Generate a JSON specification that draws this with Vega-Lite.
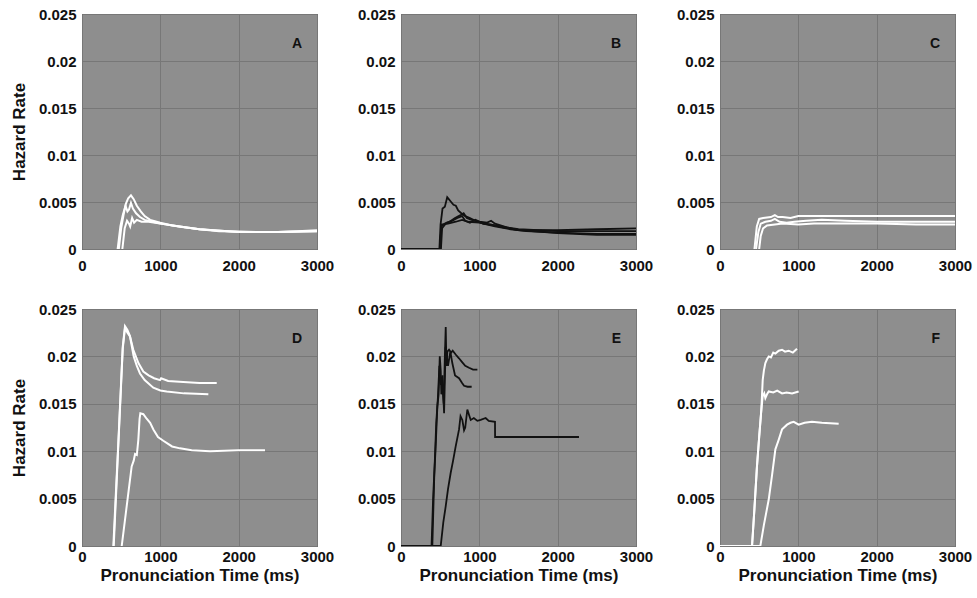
{
  "$schema": "https://vega.github.io/schema/vega-lite/v6.json",
  "background": "#ffffff",
  "padding": {"left": 9, "top": 6, "right": 5, "bottom": 5},
  "datasets": {
    "curves": [
      {"p":"A","s":1,"t":470,"h":0},{"p":"A","s":1,"t":500,"h":0.0022},{"p":"A","s":1,"t":530,"h":0.0036},{"p":"A","s":1,"t":560,"h":0.0048},{"p":"A","s":1,"t":590,"h":0.0054},{"p":"A","s":1,"t":625,"h":0.0057},{"p":"A","s":1,"t":660,"h":0.0053},{"p":"A","s":1,"t":700,"h":0.0046},{"p":"A","s":1,"t":750,"h":0.004},{"p":"A","s":1,"t":800,"h":0.0035},{"p":"A","s":1,"t":870,"h":0.0031},{"p":"A","s":1,"t":1000,"h":0.0028},{"p":"A","s":1,"t":1150,"h":0.0025},{"p":"A","s":1,"t":1300,"h":0.0023},{"p":"A","s":1,"t":1500,"h":0.0021},{"p":"A","s":1,"t":1750,"h":0.0019},{"p":"A","s":1,"t":2000,"h":0.00185},{"p":"A","s":1,"t":2250,"h":0.0018},{"p":"A","s":1,"t":2500,"h":0.0018},{"p":"A","s":1,"t":2750,"h":0.0019},{"p":"A","s":1,"t":3000,"h":0.002},
      {"p":"A","s":2,"t":455,"h":0},{"p":"A","s":2,"t":490,"h":0.0024},{"p":"A","s":2,"t":520,"h":0.0036},{"p":"A","s":2,"t":555,"h":0.0046},{"p":"A","s":2,"t":580,"h":0.004},{"p":"A","s":2,"t":600,"h":0.0042},{"p":"A","s":2,"t":625,"h":0.0049},{"p":"A","s":2,"t":650,"h":0.0043},{"p":"A","s":2,"t":690,"h":0.0038},{"p":"A","s":2,"t":740,"h":0.0034},{"p":"A","s":2,"t":800,"h":0.0031},{"p":"A","s":2,"t":900,"h":0.0029},{"p":"A","s":2,"t":1000,"h":0.0027},{"p":"A","s":2,"t":1250,"h":0.0024},{"p":"A","s":2,"t":1500,"h":0.0021},{"p":"A","s":2,"t":2000,"h":0.0018},{"p":"A","s":2,"t":2500,"h":0.0018},{"p":"A","s":2,"t":3000,"h":0.0019},
      {"p":"A","s":3,"t":515,"h":0},{"p":"A","s":3,"t":545,"h":0.0022},{"p":"A","s":3,"t":575,"h":0.003},{"p":"A","s":3,"t":600,"h":0.0027},{"p":"A","s":3,"t":615,"h":0.0024},{"p":"A","s":3,"t":640,"h":0.0033},{"p":"A","s":3,"t":665,"h":0.0028},{"p":"A","s":3,"t":700,"h":0.0031},{"p":"A","s":3,"t":760,"h":0.0029},{"p":"A","s":3,"t":850,"h":0.0029},{"p":"A","s":3,"t":1000,"h":0.0027},{"p":"A","s":3,"t":1250,"h":0.0024},{"p":"A","s":3,"t":1500,"h":0.0021},{"p":"A","s":3,"t":2000,"h":0.0018},{"p":"A","s":3,"t":2500,"h":0.0018},{"p":"A","s":3,"t":3000,"h":0.0019},

      {"p":"B","s":1,"t":0,"h":0},{"p":"B","s":1,"t":490,"h":0},{"p":"B","s":1,"t":505,"h":0.0026},{"p":"B","s":1,"t":530,"h":0.0043},{"p":"B","s":1,"t":560,"h":0.0045},{"p":"B","s":1,"t":590,"h":0.0055},{"p":"B","s":1,"t":610,"h":0.0053},{"p":"B","s":1,"t":640,"h":0.005},{"p":"B","s":1,"t":670,"h":0.0047},{"p":"B","s":1,"t":700,"h":0.0046},{"p":"B","s":1,"t":730,"h":0.0041},{"p":"B","s":1,"t":770,"h":0.0038},{"p":"B","s":1,"t":820,"h":0.0035},{"p":"B","s":1,"t":880,"h":0.0033},{"p":"B","s":1,"t":950,"h":0.003},{"p":"B","s":1,"t":1050,"h":0.0027},{"p":"B","s":1,"t":1200,"h":0.0024},{"p":"B","s":1,"t":1400,"h":0.0021},{"p":"B","s":1,"t":1600,"h":0.0019},{"p":"B","s":1,"t":2000,"h":0.00175},{"p":"B","s":1,"t":2500,"h":0.0016},{"p":"B","s":1,"t":3000,"h":0.0016},
      {"p":"B","s":2,"t":0,"h":0},{"p":"B","s":2,"t":500,"h":0},{"p":"B","s":2,"t":515,"h":0.0024},{"p":"B","s":2,"t":560,"h":0.0027},{"p":"B","s":2,"t":620,"h":0.0029},{"p":"B","s":2,"t":690,"h":0.0033},{"p":"B","s":2,"t":760,"h":0.0036},{"p":"B","s":2,"t":800,"h":0.0038},{"p":"B","s":2,"t":840,"h":0.0033},{"p":"B","s":2,"t":900,"h":0.0031},{"p":"B","s":2,"t":1000,"h":0.0029},{"p":"B","s":2,"t":1100,"h":0.0028},{"p":"B","s":2,"t":1150,"h":0.003},{"p":"B","s":2,"t":1200,"h":0.0027},{"p":"B","s":2,"t":1350,"h":0.0023},{"p":"B","s":2,"t":1500,"h":0.002},{"p":"B","s":2,"t":2000,"h":0.002},{"p":"B","s":2,"t":2500,"h":0.0021},{"p":"B","s":2,"t":3000,"h":0.0022},
      {"p":"B","s":3,"t":0,"h":0},{"p":"B","s":3,"t":510,"h":0},{"p":"B","s":3,"t":525,"h":0.0022},{"p":"B","s":3,"t":580,"h":0.0028},{"p":"B","s":3,"t":650,"h":0.003},{"p":"B","s":3,"t":720,"h":0.0033},{"p":"B","s":3,"t":780,"h":0.0035},{"p":"B","s":3,"t":820,"h":0.003},{"p":"B","s":3,"t":880,"h":0.0028},{"p":"B","s":3,"t":950,"h":0.0031},{"p":"B","s":3,"t":1050,"h":0.0027},{"p":"B","s":3,"t":1150,"h":0.0026},{"p":"B","s":3,"t":1300,"h":0.0023},{"p":"B","s":3,"t":1500,"h":0.002},{"p":"B","s":3,"t":2000,"h":0.0017},{"p":"B","s":3,"t":2500,"h":0.0015},{"p":"B","s":3,"t":3000,"h":0.0015},
      {"p":"B","s":4,"t":500,"h":0},{"p":"B","s":4,"t":515,"h":0.0026},{"p":"B","s":4,"t":600,"h":0.0027},{"p":"B","s":4,"t":700,"h":0.0029},{"p":"B","s":4,"t":780,"h":0.0031},{"p":"B","s":4,"t":860,"h":0.0029},{"p":"B","s":4,"t":1000,"h":0.0028},{"p":"B","s":4,"t":1200,"h":0.0025},{"p":"B","s":4,"t":1500,"h":0.0021},{"p":"B","s":4,"t":2000,"h":0.0019},{"p":"B","s":4,"t":2500,"h":0.0019},{"p":"B","s":4,"t":3000,"h":0.0019},

      {"p":"C","s":1,"t":440,"h":0},{"p":"C","s":1,"t":470,"h":0.0024},{"p":"C","s":1,"t":500,"h":0.0032},{"p":"C","s":1,"t":550,"h":0.0033},{"p":"C","s":1,"t":650,"h":0.0034},{"p":"C","s":1,"t":700,"h":0.0036},{"p":"C","s":1,"t":740,"h":0.0034},{"p":"C","s":1,"t":800,"h":0.0034},{"p":"C","s":1,"t":900,"h":0.0033},{"p":"C","s":1,"t":1000,"h":0.0035},{"p":"C","s":1,"t":1200,"h":0.0035},{"p":"C","s":1,"t":1500,"h":0.0035},{"p":"C","s":1,"t":2000,"h":0.0035},{"p":"C","s":1,"t":2500,"h":0.0035},{"p":"C","s":1,"t":3000,"h":0.0035},
      {"p":"C","s":2,"t":460,"h":0},{"p":"C","s":2,"t":490,"h":0.0018},{"p":"C","s":2,"t":520,"h":0.0027},{"p":"C","s":2,"t":580,"h":0.0029},{"p":"C","s":2,"t":650,"h":0.003},{"p":"C","s":2,"t":700,"h":0.0032},{"p":"C","s":2,"t":760,"h":0.0029},{"p":"C","s":2,"t":850,"h":0.0028},{"p":"C","s":2,"t":950,"h":0.0029},{"p":"C","s":2,"t":1100,"h":0.003},{"p":"C","s":2,"t":1300,"h":0.0031},{"p":"C","s":2,"t":1600,"h":0.003},{"p":"C","s":2,"t":2000,"h":0.0029},{"p":"C","s":2,"t":2500,"h":0.0029},{"p":"C","s":2,"t":3000,"h":0.0029},
      {"p":"C","s":3,"t":500,"h":0},{"p":"C","s":3,"t":520,"h":0.0014},{"p":"C","s":3,"t":550,"h":0.0022},{"p":"C","s":3,"t":600,"h":0.0025},{"p":"C","s":3,"t":700,"h":0.0026},{"p":"C","s":3,"t":800,"h":0.0027},{"p":"C","s":3,"t":1000,"h":0.0026},{"p":"C","s":3,"t":1200,"h":0.0027},{"p":"C","s":3,"t":1500,"h":0.0027},{"p":"C","s":3,"t":2000,"h":0.0027},{"p":"C","s":3,"t":2500,"h":0.0026},{"p":"C","s":3,"t":3000,"h":0.0026},

      {"p":"D","s":1,"t":400,"h":0},{"p":"D","s":1,"t":470,"h":0.012},{"p":"D","s":1,"t":520,"h":0.021},{"p":"D","s":1,"t":549,"h":0.0232},{"p":"D","s":1,"t":580,"h":0.0228},{"p":"D","s":1,"t":610,"h":0.0222},{"p":"D","s":1,"t":655,"h":0.0207},{"p":"D","s":1,"t":720,"h":0.0193},{"p":"D","s":1,"t":783,"h":0.0184},{"p":"D","s":1,"t":850,"h":0.018},{"p":"D","s":1,"t":920,"h":0.0177},{"p":"D","s":1,"t":996,"h":0.0175},{"p":"D","s":1,"t":1010,"h":0.0177},{"p":"D","s":1,"t":1100,"h":0.0174},{"p":"D","s":1,"t":1293,"h":0.0173},{"p":"D","s":1,"t":1500,"h":0.0172},{"p":"D","s":1,"t":1720,"h":0.0172},
      {"p":"D","s":2,"t":405,"h":0},{"p":"D","s":2,"t":470,"h":0.0118},{"p":"D","s":2,"t":520,"h":0.0208},{"p":"D","s":2,"t":549,"h":0.023},{"p":"D","s":2,"t":580,"h":0.0225},{"p":"D","s":2,"t":613,"h":0.0221},{"p":"D","s":2,"t":660,"h":0.02},{"p":"D","s":2,"t":700,"h":0.019},{"p":"D","s":2,"t":740,"h":0.0182},{"p":"D","s":2,"t":800,"h":0.0175},{"p":"D","s":2,"t":910,"h":0.0167},{"p":"D","s":2,"t":1000,"h":0.0164},{"p":"D","s":2,"t":1081,"h":0.0163},{"p":"D","s":2,"t":1300,"h":0.0161},{"p":"D","s":2,"t":1613,"h":0.016},
      {"p":"D","s":3,"t":507,"h":0},{"p":"D","s":3,"t":560,"h":0.0035},{"p":"D","s":3,"t":634,"h":0.0084},{"p":"D","s":3,"t":660,"h":0.009},{"p":"D","s":3,"t":677,"h":0.0097},{"p":"D","s":3,"t":700,"h":0.0096},{"p":"D","s":3,"t":719,"h":0.0112},{"p":"D","s":3,"t":735,"h":0.0134},{"p":"D","s":3,"t":745,"h":0.014},{"p":"D","s":3,"t":783,"h":0.0139},{"p":"D","s":3,"t":820,"h":0.0135},{"p":"D","s":3,"t":870,"h":0.013},{"p":"D","s":3,"t":911,"h":0.0123},{"p":"D","s":3,"t":970,"h":0.0115},{"p":"D","s":3,"t":1038,"h":0.0111},{"p":"D","s":3,"t":1150,"h":0.0105},{"p":"D","s":3,"t":1251,"h":0.0103},{"p":"D","s":3,"t":1400,"h":0.0101},{"p":"D","s":3,"t":1634,"h":0.01},{"p":"D","s":3,"t":2000,"h":0.0101},{"p":"D","s":3,"t":2336,"h":0.0101},

      {"p":"E","s":1,"t":0,"h":0},{"p":"E","s":1,"t":390,"h":0},{"p":"E","s":1,"t":410,"h":0.005},{"p":"E","s":1,"t":421,"h":0.007},{"p":"E","s":1,"t":440,"h":0.01},{"p":"E","s":1,"t":464,"h":0.0147},{"p":"E","s":1,"t":480,"h":0.016},{"p":"E","s":1,"t":495,"h":0.02},{"p":"E","s":1,"t":507,"h":0.0185},{"p":"E","s":1,"t":515,"h":0.016},{"p":"E","s":1,"t":528,"h":0.017},{"p":"E","s":1,"t":545,"h":0.015},{"p":"E","s":1,"t":560,"h":0.02},{"p":"E","s":1,"t":571,"h":0.0231},{"p":"E","s":1,"t":580,"h":0.019},{"p":"E","s":1,"t":592,"h":0.0205},{"p":"E","s":1,"t":613,"h":0.0207},{"p":"E","s":1,"t":640,"h":0.0204},{"p":"E","s":1,"t":660,"h":0.0206},{"p":"E","s":1,"t":698,"h":0.0202},{"p":"E","s":1,"t":740,"h":0.0198},{"p":"E","s":1,"t":780,"h":0.0194},{"p":"E","s":1,"t":820,"h":0.019},{"p":"E","s":1,"t":868,"h":0.0188},{"p":"E","s":1,"t":920,"h":0.0186},{"p":"E","s":1,"t":975,"h":0.0186},
      {"p":"E","s":2,"t":0,"h":0},{"p":"E","s":2,"t":400,"h":0},{"p":"E","s":2,"t":425,"h":0.0075},{"p":"E","s":2,"t":450,"h":0.013},{"p":"E","s":2,"t":470,"h":0.0155},{"p":"E","s":2,"t":490,"h":0.019},{"p":"E","s":2,"t":510,"h":0.017},{"p":"E","s":2,"t":530,"h":0.018},{"p":"E","s":2,"t":550,"h":0.014},{"p":"E","s":2,"t":570,"h":0.021},{"p":"E","s":2,"t":600,"h":0.019},{"p":"E","s":2,"t":630,"h":0.0205},{"p":"E","s":2,"t":655,"h":0.0193},{"p":"E","s":2,"t":690,"h":0.018},{"p":"E","s":2,"t":741,"h":0.0177},{"p":"E","s":2,"t":780,"h":0.0172},{"p":"E","s":2,"t":805,"h":0.0169},{"p":"E","s":2,"t":850,"h":0.0168},{"p":"E","s":2,"t":902,"h":0.0168},
      {"p":"E","s":3,"t":0,"h":0},{"p":"E","s":3,"t":507,"h":0},{"p":"E","s":3,"t":540,"h":0.0025},{"p":"E","s":3,"t":571,"h":0.0042},{"p":"E","s":3,"t":600,"h":0.006},{"p":"E","s":3,"t":634,"h":0.0077},{"p":"E","s":3,"t":665,"h":0.009},{"p":"E","s":3,"t":698,"h":0.0105},{"p":"E","s":3,"t":741,"h":0.0123},{"p":"E","s":3,"t":760,"h":0.0137},{"p":"E","s":3,"t":783,"h":0.0133},{"p":"E","s":3,"t":805,"h":0.0122},{"p":"E","s":3,"t":820,"h":0.0125},{"p":"E","s":3,"t":847,"h":0.0144},{"p":"E","s":3,"t":870,"h":0.0138},{"p":"E","s":3,"t":890,"h":0.0133},{"p":"E","s":3,"t":930,"h":0.0135},{"p":"E","s":3,"t":975,"h":0.0132},{"p":"E","s":3,"t":1017,"h":0.0133},{"p":"E","s":3,"t":1081,"h":0.0135},{"p":"E","s":3,"t":1120,"h":0.0132},{"p":"E","s":3,"t":1200,"h":0.0131},{"p":"E","s":3,"t":1201,"h":0.0115},{"p":"E","s":3,"t":1600,"h":0.0115},{"p":"E","s":3,"t":2000,"h":0.0115},{"p":"E","s":3,"t":2272,"h":0.0115},

      {"p":"F","s":1,"t":0,"h":0},{"p":"F","s":1,"t":409,"h":0},{"p":"F","s":1,"t":440,"h":0.004},{"p":"F","s":1,"t":472,"h":0.0084},{"p":"F","s":1,"t":500,"h":0.0115},{"p":"F","s":1,"t":528,"h":0.0144},{"p":"F","s":1,"t":545,"h":0.0175},{"p":"F","s":1,"t":560,"h":0.0185},{"p":"F","s":1,"t":579,"h":0.0193},{"p":"F","s":1,"t":600,"h":0.0197},{"p":"F","s":1,"t":622,"h":0.02},{"p":"F","s":1,"t":650,"h":0.0199},{"p":"F","s":1,"t":680,"h":0.0204},{"p":"F","s":1,"t":707,"h":0.0203},{"p":"F","s":1,"t":750,"h":0.0206},{"p":"F","s":1,"t":792,"h":0.0207},{"p":"F","s":1,"t":830,"h":0.0205},{"p":"F","s":1,"t":877,"h":0.0206},{"p":"F","s":1,"t":930,"h":0.0204},{"p":"F","s":1,"t":983,"h":0.0208},
      {"p":"F","s":2,"t":0,"h":0},{"p":"F","s":2,"t":409,"h":0},{"p":"F","s":2,"t":440,"h":0.004},{"p":"F","s":2,"t":472,"h":0.0084},{"p":"F","s":2,"t":500,"h":0.0115},{"p":"F","s":2,"t":528,"h":0.0144},{"p":"F","s":2,"t":545,"h":0.0158},{"p":"F","s":2,"t":565,"h":0.0161},{"p":"F","s":2,"t":579,"h":0.0156},{"p":"F","s":2,"t":600,"h":0.016},{"p":"F","s":2,"t":622,"h":0.0163},{"p":"F","s":2,"t":680,"h":0.0162},{"p":"F","s":2,"t":730,"h":0.0164},{"p":"F","s":2,"t":792,"h":0.0161},{"p":"F","s":2,"t":850,"h":0.0162},{"p":"F","s":2,"t":920,"h":0.0161},{"p":"F","s":2,"t":1004,"h":0.0163},
      {"p":"F","s":3,"t":0,"h":0},{"p":"F","s":3,"t":515,"h":0},{"p":"F","s":3,"t":560,"h":0.0022},{"p":"F","s":3,"t":622,"h":0.0049},{"p":"F","s":3,"t":665,"h":0.0075},{"p":"F","s":3,"t":707,"h":0.0102},{"p":"F","s":3,"t":749,"h":0.0112},{"p":"F","s":3,"t":792,"h":0.0123},{"p":"F","s":3,"t":856,"h":0.0128},{"p":"F","s":3,"t":900,"h":0.013},{"p":"F","s":3,"t":941,"h":0.0131},{"p":"F","s":3,"t":1004,"h":0.0128},{"p":"F","s":3,"t":1080,"h":0.013},{"p":"F","s":3,"t":1174,"h":0.0131},{"p":"F","s":3,"t":1300,"h":0.013},{"p":"F","s":3,"t":1515,"h":0.0129}
    ]
  },
  "columns": 3,
  "spacing": {"row": 60, "column": 84},
  "bounds": "flush",
  "concat": [
    {
      "width": 235, "height": 235,
      "title": {"text": "A"},
      "data": {"name": "curves"},
      "transform": [{"filter": "datum.p === 'A'"}],
      "mark": {"type": "line", "color": "#ffffff", "strokeWidth": 2, "clip": true},
      "encoding": {
        "x": {"field": "t", "type": "quantitative", "scale": {"domain": [0, 3000], "nice": false}, "axis": {"values": [0, 1000, 2000, 3000], "format": "d", "title": null, "labelPadding": 9}},
        "y": {"field": "h", "type": "quantitative", "scale": {"domain": [0, 0.025], "nice": false, "zero": false}, "axis": {"values": [0, 0.005, 0.01, 0.015, 0.02, 0.025], "format": ".3~f", "title": "Hazard Rate"}},
        "detail": {"field": "s"}
      }
    },
    {
      "width": 235, "height": 235,
      "title": {"text": "B"},
      "data": {"name": "curves"},
      "transform": [{"filter": "datum.p === 'B'"}],
      "mark": {"type": "line", "color": "#111111", "strokeWidth": 1.8, "clip": true},
      "encoding": {
        "x": {"field": "t", "type": "quantitative", "scale": {"domain": [0, 3000], "nice": false}, "axis": {"values": [0, 1000, 2000, 3000], "format": "d", "title": null, "labelPadding": 9}},
        "y": {"field": "h", "type": "quantitative", "scale": {"domain": [0, 0.025], "nice": false, "zero": false}, "axis": {"values": [0, 0.005, 0.01, 0.015, 0.02, 0.025], "format": ".3~f", "title": null}},
        "detail": {"field": "s"}
      }
    },
    {
      "width": 235, "height": 235,
      "title": {"text": "C"},
      "data": {"name": "curves"},
      "transform": [{"filter": "datum.p === 'C'"}],
      "mark": {"type": "line", "color": "#ffffff", "strokeWidth": 2, "clip": true},
      "encoding": {
        "x": {"field": "t", "type": "quantitative", "scale": {"domain": [0, 3000], "nice": false}, "axis": {"values": [0, 1000, 2000, 3000], "format": "d", "title": null, "labelPadding": 9}},
        "y": {"field": "h", "type": "quantitative", "scale": {"domain": [0, 0.025], "nice": false, "zero": false}, "axis": {"values": [0, 0.005, 0.01, 0.015, 0.02, 0.025], "format": ".3~f", "title": null}},
        "detail": {"field": "s"}
      }
    },
    {
      "width": 235, "height": 237,
      "title": {"text": "D"},
      "data": {"name": "curves"},
      "transform": [{"filter": "datum.p === 'D'"}],
      "mark": {"type": "line", "color": "#ffffff", "strokeWidth": 2, "clip": true},
      "encoding": {
        "x": {"field": "t", "type": "quantitative", "scale": {"domain": [0, 3000], "nice": false}, "axis": {"values": [0, 1000, 2000, 3000], "format": "d", "title": "Pronunciation Time (ms)", "labelPadding": 3, "titlePadding": 3}},
        "y": {"field": "h", "type": "quantitative", "scale": {"domain": [0, 0.025], "nice": false, "zero": false}, "axis": {"values": [0, 0.005, 0.01, 0.015, 0.02, 0.025], "format": ".3~f", "title": "Hazard Rate"}},
        "detail": {"field": "s"}
      }
    },
    {
      "width": 235, "height": 237,
      "title": {"text": "E"},
      "data": {"name": "curves"},
      "transform": [{"filter": "datum.p === 'E'"}],
      "mark": {"type": "line", "color": "#111111", "strokeWidth": 1.8, "clip": true},
      "encoding": {
        "x": {"field": "t", "type": "quantitative", "scale": {"domain": [0, 3000], "nice": false}, "axis": {"values": [0, 1000, 2000, 3000], "format": "d", "title": "Pronunciation Time (ms)", "labelPadding": 3, "titlePadding": 3}},
        "y": {"field": "h", "type": "quantitative", "scale": {"domain": [0, 0.025], "nice": false, "zero": false}, "axis": {"values": [0, 0.005, 0.01, 0.015, 0.02, 0.025], "format": ".3~f", "title": null}},
        "detail": {"field": "s"}
      }
    },
    {
      "width": 235, "height": 237,
      "title": {"text": "F"},
      "data": {"name": "curves"},
      "transform": [{"filter": "datum.p === 'F'"}],
      "mark": {"type": "line", "color": "#ffffff", "strokeWidth": 2, "clip": true},
      "encoding": {
        "x": {"field": "t", "type": "quantitative", "scale": {"domain": [0, 3000], "nice": false}, "axis": {"values": [0, 1000, 2000, 3000], "format": "d", "title": "Pronunciation Time (ms)", "labelPadding": 3, "titlePadding": 3}},
        "y": {"field": "h", "type": "quantitative", "scale": {"domain": [0, 0.025], "nice": false, "zero": false}, "axis": {"values": [0, 0.005, 0.01, 0.015, 0.02, 0.025], "format": ".3~f", "title": null}},
        "detail": {"field": "s"}
      }
    }
  ],
  "config": {
    "view": {"fill": "#8e8e8e", "stroke": "#3c3c3c", "strokeWidth": 1},
    "axis": {
      "labelFont": "Liberation Sans", "labelFontWeight": "bold", "labelFontSize": 15, "labelColor": "#111111",
      "titleFont": "Liberation Sans", "titleFontWeight": "bold", "titleFontSize": 17, "titleColor": "#111111",
      "domain": false, "ticks": false, "grid": true, "gridColor": "#777777", "gridWidth": 1,
      "labelFlush": false, "labelOverlap": false, "labelPadding": 6
    },
    "axisY": {"titlePadding": 10},
    "title": {
      "font": "Liberation Sans", "fontWeight": "bold", "fontSize": 14, "color": "#111111",
      "anchor": "end", "frame": "group", "offset": -44, "dx": -15, "baseline": "middle"
    }
  }
}
